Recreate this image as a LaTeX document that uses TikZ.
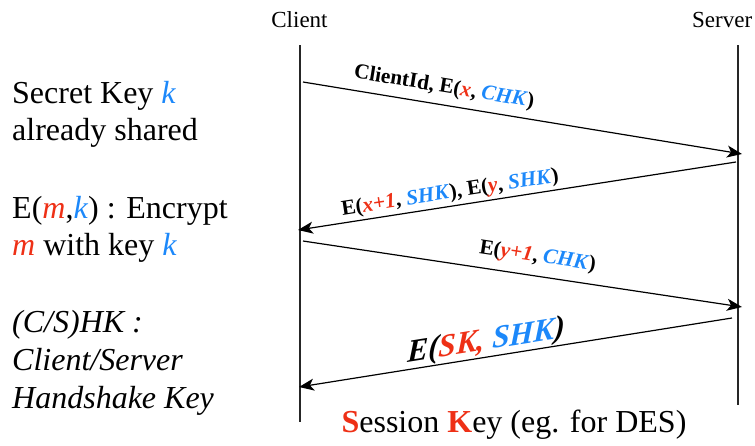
\documentclass[tikz,border=0pt]{standalone}
\usepackage{fontspec}
\setmainfont{Liberation Serif}
\usetikzlibrary{arrows.meta}
\definecolor{keyred}{RGB}{238,48,22}
\definecolor{keyblue}{RGB}{28,136,250}
\newcommand{\rd}[1]{\textcolor{keyred}{#1}}
\newcommand{\bl}[1]{\textcolor{keyblue}{#1}}
\tikzset{
  lifeline/.style={line width=1.5pt, black!85},
  msg/.style={line width=1.2pt, -{Stealth[length=15pt,width=12pt,inset=4pt]}},
  msglabel/.style={sloped, inner sep=0pt, font=\fontsize{21.3}{25}\selectfont\bfseries},
  biglabel/.style={sloped, inner sep=0pt, xslant=0.2, font=\fontsize{31.5}{36}\selectfont},
  party/.style={font=\fontsize{23}{27}\selectfont, inner sep=0pt, anchor=base},
  note/.style={font=\fontsize{32}{38}\selectfont, inner sep=0pt, anchor=base west},
  inote/.style={note, font=\fontsize{32}{38}\selectfont\itshape},
}
\begin{document}
\begin{tikzpicture}[x=1pt, y=-1pt]
  \useasboundingbox (0,0) rectangle (755,445);

  % participants
  \node[party] (client) at (299.5,27) {Client};
  \node[party, anchor=base west] (server) at (692,27) {Server};

  % lifelines
  \coordinate (ctop) at (300,45);
  \coordinate (cbot) at (300,422);
  \coordinate (stop) at (738,45);
  \coordinate (sbot) at (738,405);
  \draw[lifeline] (ctop) -- (cbot);
  \draw[lifeline] (stop) -- (sbot);

  % message end points
  \coordinate (c1) at (303,82);
  \coordinate (s1) at (742,154);
  \coordinate (s2) at (736,162);
  \coordinate (c2) at (298,230);
  \coordinate (c3) at (303,241);
  \coordinate (s3) at (742,307);
  \coordinate (s4) at (732,318);
  \coordinate (c4) at (299,387);

  % handshake messages
  \draw[msg] (c1) -- node[msglabel, pos=0.315, above=7pt] (m1)
    {ClientId, E(\rd{\textit{x}}, \bl{\textit{CHK}})} (s1);
  \draw[msg] (s2) -- node[msglabel, pos=0.648, above=2.5pt] (m2)
    {E(\rd{\textit{x+1}}, \bl{\textit{SHK}}), E(\rd{\textit{y}}, \bl{\textit{SHK}})} (c2);
  \draw[msg] (c3) -- node[msglabel, pos=0.528, above=9pt] (m3)
    {E(\rd{\textit{y+1}}, \bl{\textit{CHK}})} (s3);
  \draw[msg] (s4) -- node[biglabel, pos=0.568, above=0pt] (m4)
    {\textbf{\textit{E(\rd{SK,} \bl{SHK})}}} (c4);

  % notes on the left
  \node[note] (n1) at (12,103) {Secret Key \bl{\textit{k}}};
  \node[note] (n2) at (12,140) {already shared};
  \node[note] (n3) at (12,218) {E(\rd{\textit{m}},\bl{\textit{k}}) : Encrypt};
  \node[note] (n4) at (12,255) {\rd{\textit{m}} with key \bl{\textit{k}}};
  \node[inote] (n5) at (12,332) {(C/S)HK :};
  \node[inote] (n6) at (12,370) {Client/Server};
  \node[inote] (n7) at (12,408) {Handshake Key};

  % session key caption
  \node[font=\fontsize{32}{38}\selectfont, inner sep=0pt, anchor=base] (sk) at (514,432)
    {\rd{\textbf{S}}ession \rd{\textbf{K}}ey (eg. for DES)};
\end{tikzpicture}
\end{document}
